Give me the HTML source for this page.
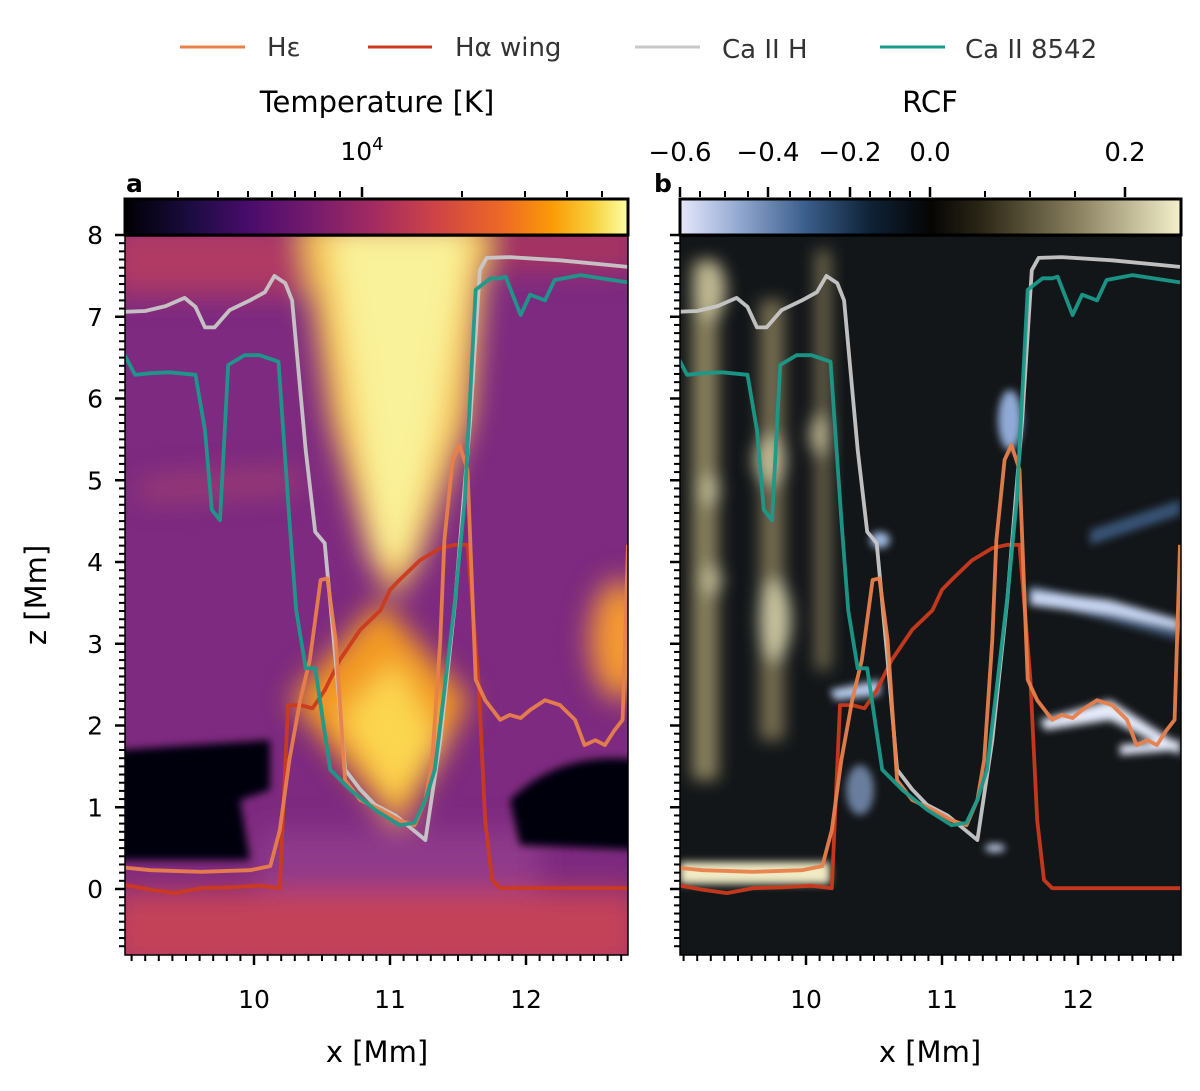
<!DOCTYPE html>
<html><head><meta charset="utf-8">
<style>
body{margin:0;background:#fff;}
svg{display:block;font-family:"DejaVu Sans","Liberation Sans",sans-serif;}
</style></head>
<body>
<svg id="fig" width="1200" height="1091" viewBox="0 0 1200 1091" xmlns="http://www.w3.org/2000/svg">
<defs>
<linearGradient id="inferno" x1="0" x2="1" y1="0" y2="0">
<stop offset="0" stop-color="#000004"/><stop offset="0.13" stop-color="#1b0c41"/><stop offset="0.25" stop-color="#4a0c6b"/><stop offset="0.38" stop-color="#781c6d"/><stop offset="0.5" stop-color="#a52c60"/><stop offset="0.62" stop-color="#cf4446"/><stop offset="0.75" stop-color="#ed6925"/><stop offset="0.85" stop-color="#fb9b06"/><stop offset="0.93" stop-color="#f7d13d"/><stop offset="1" stop-color="#fcffa4"/>
</linearGradient>
<linearGradient id="rcfmap" x1="0" x2="1" y1="0" y2="0">
<stop offset="0" stop-color="#e6e8fa"/><stop offset="0.1" stop-color="#9fb2d8"/><stop offset="0.25" stop-color="#3b5e8c"/><stop offset="0.38" stop-color="#0f2236"/><stop offset="0.5" stop-color="#050505"/><stop offset="0.6" stop-color="#2a2615"/><stop offset="0.8" stop-color="#8d8463"/><stop offset="1" stop-color="#f4f0cc"/>
</linearGradient>
<filter id="blur8"><feGaussianBlur stdDeviation="8"/></filter>
<filter id="blur4"><feGaussianBlur stdDeviation="4"/></filter>
<filter id="blur14"><feGaussianBlur stdDeviation="14"/></filter>
<clipPath id="clipA"><rect x="125" y="236" width="503" height="719"/></clipPath>
<clipPath id="clipB"><rect x="680" y="236" width="501" height="719"/></clipPath>
</defs>

<g clip-path="url(#clipA)">
<rect x="125" y="236" width="503" height="719" fill="#7d2a80"/>
<g filter="url(#blur14)">
<rect x="110" y="225" width="200" height="70" fill="#b03a64"/>
<rect x="470" y="225" width="170" height="45" fill="#a8345f"/>
<path d="M140,480 L300,470 L300,490 L140,500 Z" fill="#b04a6a" opacity="0.7"/>
<path d="M300,220 L490,220 L470,420 L420,560 L395,600 L370,560 L330,420 Z" fill="#f8c650"/>
<path d="M330,230 L470,230 L440,420 L405,560 L380,560 L355,400 Z" fill="#f9f29a"/>
<path d="M290,700 L380,600 L470,700 L400,830 Z" fill="#f39a20"/>
<path d="M340,720 L395,660 L440,740 L395,810 Z" fill="#fcd650"/>
<ellipse cx="620" cy="640" rx="30" ry="60" fill="#f59a30"/>
<rect x="110" y="890" width="530" height="80" fill="#c44258"/>
<rect x="260" y="830" width="280" height="60" fill="#8f3a8a"/>
</g>
<g filter="url(#blur4)">
<path d="M120,750 L270,740 L270,790 L240,800 L250,860 L120,860 Z" fill="#05030c"/>
<path d="M510,800 Q560,750 640,760 L640,850 L520,845 Z" fill="#05030c"/>
</g>
</g>

<g clip-path="url(#clipB)">
<rect x="680" y="236" width="501" height="719" fill="#131619"/>
<g filter="url(#blur8)" opacity="0.8">
<rect x="692" y="260" width="26" height="520" fill="#a89d70"/>
<rect x="760" y="300" width="24" height="440" fill="#8f8460"/>
<rect x="816" y="250" width="14" height="420" fill="#8f8460"/>
<ellipse cx="775" cy="620" rx="16" ry="40" fill="#f3edc0"/>
<ellipse cx="770" cy="460" rx="16" ry="25" fill="#e8e0b0"/>
<ellipse cx="710" cy="290" rx="16" ry="30" fill="#e8e0b0"/>
<ellipse cx="820" cy="435" rx="10" ry="20" fill="#e8e0b0"/>
<ellipse cx="710" cy="490" rx="10" ry="15" fill="#e8e0b0"/>
<ellipse cx="712" cy="580" rx="10" ry="15" fill="#e8e0b0"/>
</g>
<g filter="url(#blur4)">
<rect x="680" y="862" width="150" height="22" fill="#f0ebc5"/>
<path d="M1030,585 L1180,620 L1180,640 L1030,600 Z" fill="#5c86b8" opacity="0.6"/>
<path d="M1030,590 L1110,600 L1180,620 L1180,630 L1110,615 L1030,605 Z" fill="#c8d6f2"/>
<path d="M1040,720 L1110,700 L1180,745 L1180,755 L1110,720 L1045,730 Z" fill="#e6ebfc"/>
<path d="M1120,745 L1180,740 L1180,750 L1120,755 Z" fill="#e6ebfc"/>
<path d="M830,690 L880,680 L880,695 L835,700 Z" fill="#b8cdee"/>
<ellipse cx="880" cy="540" rx="10" ry="8" fill="#9fb7e0"/>
<ellipse cx="1010" cy="420" rx="12" ry="30" fill="#8faad6"/>
<path d="M1090,530 L1180,500 L1180,515 L1090,545 Z" fill="#4a6e9e" opacity="0.7"/>
<ellipse cx="860" cy="790" rx="14" ry="25" fill="#8faad6" opacity="0.7"/>
<ellipse cx="995" cy="848" rx="10" ry="4" fill="#c8d6f2"/>
</g>
</g>

<g id="linesA" clip-path="url(#clipA)"></g>
<g id="linesB" clip-path="url(#clipB)"></g>

<rect x="125" y="236" width="503" height="719" fill="none" stroke="#000" stroke-width="1.5"/>
<rect x="680" y="236" width="501" height="719" fill="none" stroke="#000" stroke-width="1.5"/>

<rect x="125" y="199" width="503" height="36" fill="url(#inferno)" stroke="#000" stroke-width="3"/>
<rect x="680" y="199" width="501" height="36" fill="url(#rcfmap)" stroke="#000" stroke-width="3"/>

<g id="axes"></g>

<text x="377" y="112" font-size="29" text-anchor="middle">Temperature [K]</text>
<text x="930" y="112" font-size="29" text-anchor="middle">RCF</text>
<text x="362" y="160" font-size="25" text-anchor="middle">10<tspan dy="-10" font-size="18">4</tspan></text>
<text x="126" y="192" font-size="25" font-weight="bold">a</text>
<text x="654" y="192" font-size="25" font-weight="bold">b</text>
<text x="377" y="1062" font-size="29" text-anchor="middle">x [Mm]</text>
<text x="930" y="1062" font-size="29" text-anchor="middle">x [Mm]</text>
<text transform="translate(46,595) rotate(-90)" font-size="29" text-anchor="middle">z [Mm]</text>

<g>
<g><line x1="180" y1="47" x2="245" y2="47" stroke="#e8804a" stroke-width="3"/><text x="267" y="56" font-size="26" fill="#333">Hε</text></g>
<g><line x1="368" y1="47" x2="432" y2="47" stroke="#cc3a1e" stroke-width="3"/><text x="455" y="56" font-size="26" fill="#333">Hα wing</text></g>
<g><line x1="635" y1="47" x2="700" y2="47" stroke="#c8c8c8" stroke-width="3"/><text x="722" y="58" font-size="26" fill="#333">Ca II H</text></g>
<g><line x1="880" y1="47" x2="945" y2="47" stroke="#1a9a8a" stroke-width="3"/><text x="965" y="58" font-size="26" fill="#333">Ca II 8542</text></g>
</g>
</svg>
<script>
const caHx=[9.05,9.20,9.35,9.49,9.57,9.64,9.71,9.82,9.97,10.08,10.15,10.23,10.28,10.38,10.45,10.52,10.60,10.67,10.78,10.89,11.04,11.15,11.26,11.37,11.48,11.59,11.66,11.71,11.88,12.25,12.75];
const caHz=[7.06,7.07,7.13,7.23,7.12,6.87,6.87,7.08,7.2,7.30,7.50,7.41,7.2,5.37,4.37,4.23,2.80,1.46,1.22,1.03,0.90,0.75,0.60,1.82,3.54,5.74,7.57,7.72,7.73,7.69,7.61];
const ca8x=[9.05,9.125,9.24,9.38,9.57,9.64,9.69,9.75,9.81,9.93,10.04,10.18,10.26,10.31,10.38,10.45,10.56,10.71,10.89,11.07,11.18,11.26,11.33,11.40,11.48,11.55,11.63,11.74,11.81,11.85,11.96,12.03,12.14,12.21,12.40,12.75];
const ca8z=[6.53,6.29,6.31,6.32,6.29,5.61,4.64,4.51,6.41,6.53,6.53,6.45,4.51,3.41,2.70,2.70,1.46,1.21,0.97,0.78,0.81,1.09,1.46,2.43,3.56,4.76,7.33,7.47,7.47,7.49,7.02,7.27,7.20,7.45,7.51,7.42];
const hex=[9.05,9.24,9.61,9.97,10.12,10.19,10.26,10.34,10.41,10.49,10.54,10.60,10.67,10.78,10.93,11.07,11.18,11.26,11.31,11.37,11.40,11.46,11.51,11.57,11.63,11.70,11.81,11.88,11.96,12.03,12.14,12.25,12.36,12.43,12.51,12.58,12.65,12.71,12.75];
const hez=[0.26,0.23,0.21,0.23,0.28,0.72,1.58,2.31,2.80,3.78,3.80,3.05,1.33,1.09,0.97,0.84,0.78,1.09,1.58,3.05,4.27,5.25,5.43,5.13,2.56,2.31,2.07,2.13,2.09,2.19,2.31,2.25,2.07,1.76,1.82,1.76,1.94,2.07,4.21];
const hax=[9.05,9.24,9.42,9.61,9.82,10.04,10.19,10.25,10.34,10.43,10.52,10.63,10.78,10.93,11.0,11.07,11.22,11.37,11.48,11.51,11.57,11.65,11.70,11.75,11.81,12.25,12.75];
const haz=[0.05,-0.01,-0.05,0.01,0.02,0.04,0.01,2.25,2.25,2.21,2.43,2.80,3.17,3.41,3.66,3.78,4.02,4.17,4.21,4.21,4.21,2.56,0.84,0.11,0.01,0.01,0.01];
const xTicks=[10,11,12];
const yTicks=[8,7,6,5,4,3,2,1,0];
const rcfTicks=[-0.6,-0.4,-0.2,0.0,0.2];
const rcfTickPx=[680,768,850,930,1125];

const NS='http://www.w3.org/2000/svg';
function mk(tag,attrs,parent){const e=document.createElementNS(NS,tag);for(const k in attrs)e.setAttribute(k,attrs[k]);parent.appendChild(e);return e;}
function xa(x0){return v=>x0+(v-10)*136;}
function ya(v){return 889-v*81.75;}
const panels=[{g:'linesA',x:xa(254),name:'a'},{g:'linesB',x:xa(806),name:'b'}];
const series=[[hax,haz,'#cc3a1e','halpha-wing-line'],[caHx,caHz,'#c8c8c8','caii-h-line'],[hex,hez,'#e8804a','hepsilon-line'],[ca8x,ca8z,'#1a9a8a','caii-8542-line']];
panels.forEach(p=>{
  const g=document.getElementById(p.g);
  series.forEach(s=>{
    const d=s[0].map((v,i)=>(i?'L':'M')+p.x(v).toFixed(1)+','+ya(s[1][i]).toFixed(1)).join(' ');
    const el=mk('path',{d:d,fill:'none',stroke:s[2],'stroke-width':3.8,'stroke-linejoin':'round',opacity:0.95},g);
    
    
  });
});
const ax=document.getElementById('axes');
panels.forEach((p,pi)=>{
  const left=pi?680:125;
  for(let v=9.1;v<12.75;v+=0.1){
    const r=Math.round(v*10)/10; const X=p.x(r); const major=Math.abs(r-Math.round(r))<1e-6;
    mk('line',{x1:X,x2:X,y1:955,y2:955+(major?10:6),stroke:'#000','stroke-width':major?2.5:2},ax);
  }
  xTicks.forEach(t=>{const el=mk('text',{x:p.x(t),y:1008,'font-size':25,'text-anchor':'middle'},ax);el.textContent=t;
    
    });
  for(let v=-0.7;v<=8.0001;v+=0.1){
    const r=Math.round(v*10)/10; const Y=ya(r); const major=Math.abs(r-Math.round(r))<1e-6;
    mk('line',{x1:left,x2:left-(major?10:6),y1:Y,y2:Y,stroke:'#000','stroke-width':major?2.5:2},ax);
  }
  if(pi===0) yTicks.forEach(t=>{const el=mk('text',{x:103,y:ya(t)+9,'font-size':25,'text-anchor':'end'},ax);el.textContent=t;
    
    });
});
const cbMinor=[178,218,248,272,295,315,340,462,525,567,602];
cbMinor.forEach(X=>mk('line',{x1:X,x2:X,y1:197,y2:191,stroke:'#000','stroke-width':2},ax));
mk('line',{x1:362,x2:362,y1:197,y2:187,stroke:'#000','stroke-width':2.5},ax);
rcfTicks.forEach((t,i)=>{
  mk('line',{x1:rcfTickPx[i],x2:rcfTickPx[i],y1:197,y2:187,stroke:'#000','stroke-width':2.5},ax);
  const el=mk('text',{x:rcfTickPx[i],y:161,'font-size':26,'text-anchor':'middle'},ax);
  el.textContent=(t<0?'\u2212':'')+Math.abs(t).toFixed(1);
  
  
});
[700,725,748,790,810,830,870,890,910,985,1030,1075].forEach(X=>mk('line',{x1:X,x2:X,y1:197,y2:191,stroke:'#000','stroke-width':2},ax));
</script>
</body></html>
